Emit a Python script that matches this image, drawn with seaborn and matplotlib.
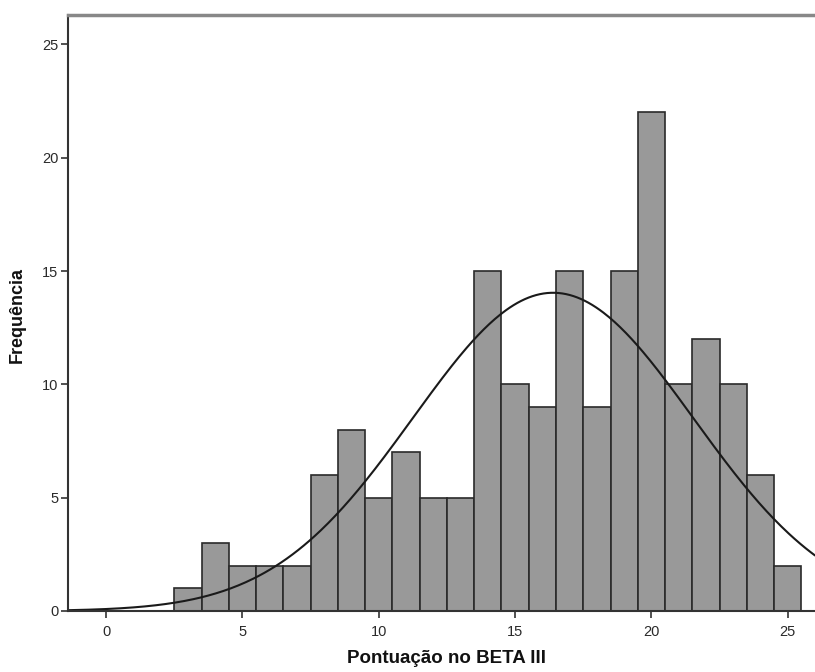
import numpy as np
import pandas as pd
import matplotlib
matplotlib.use("Agg")
import matplotlib.pyplot as plt
import seaborn as sns

scores = [3, 4, 5, 6, 7, 8, 9, 10, 11, 12, 13, 14, 15, 16, 17, 18, 19, 20, 21, 22, 23, 24, 25]
counts = [1, 3, 2, 2, 2, 6, 8, 5, 7, 5, 5, 15, 10, 9, 15, 9, 15, 22, 10, 12, 10, 6, 2]
x_ticks = [0, 5, 10, 15, 20, 25]
y_ticks = [0, 5, 10, 15, 20, 25]

sns.set_theme(style="white")
plt.rcParams['font.family'] = ['Liberation Sans', 'DejaVu Sans']

df = pd.DataFrame({"score": scores, "count": counts})

fig = plt.figure(figsize=(8.15, 6.72), dpi=100)
ax = fig.add_axes([68 / 815, 61 / 672, 1 - 68 / 815, 596 / 672])

sns.histplot(data=df, x="score", weights="count", binwidth=1, binrange=(2.5, 25.5),
             color="#999999", edgecolor="#2a2a2a", linewidth=1.2, alpha=1, ax=ax)

# normal curve fitted to data
n = sum(counts)
arr = np.repeat(scores, counts)
mu = arr.mean()
sd = arr.std(ddof=1)
xs = np.linspace(-1.4, 26.0, 400)
ys = n * 1.0 / (sd * np.sqrt(2 * np.pi)) * np.exp(-0.5 * ((xs - mu) / sd) ** 2)
sns.lineplot(x=xs, y=ys, color="#1a1a1a", linewidth=1.5, ax=ax)

ax.set_xlim(-1.4, 26.0)
ax.set_ylim(0, 26.3)
ax.set_xticks(x_ticks)
ax.set_yticks(y_ticks)
ax.tick_params(axis='both', which='both', direction='out', length=5, width=1.2,
               color="#333333", labelsize=10.5, labelcolor="#2a2a2a", pad=2,
               bottom=True, left=True)
ax.tick_params(axis='x', pad=5)
ax.spines['left'].set_color("#333333")
ax.spines['left'].set_linewidth(1.5)
ax.spines['bottom'].set_color("#333333")
ax.spines['bottom'].set_linewidth(1.5)
ax.spines['top'].set_color("#888888")
ax.spines['top'].set_linewidth(2.5)
ax.spines['right'].set_visible(False)

ax.set_xlabel("Pontuação no BETA III", fontsize=13.5, fontweight="bold", color="#111111")
ax.set_ylabel("Frequência", fontsize=13, fontweight="bold", color="#111111")
ax.xaxis.set_label_coords(0.507, -0.066)
ax.yaxis.set_label_coords(-0.056, 0.497)

fig.savefig("out.png", dpi=100)
